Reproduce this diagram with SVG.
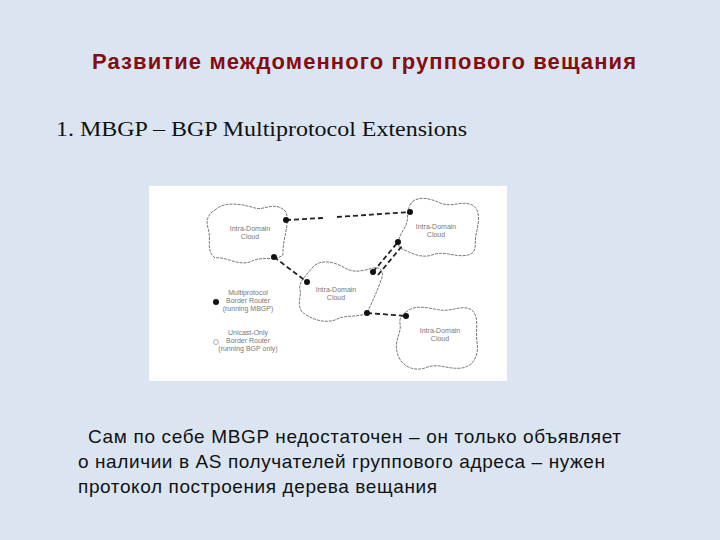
<svg xmlns="http://www.w3.org/2000/svg" width="720" height="540" viewBox="0 0 720 540">
<style>
.title{font-family:"Liberation Sans",Arial,sans-serif;font-weight:bold;font-size:22px;fill:#850d12}
.sub{font-family:"Liberation Serif","Times New Roman",serif;font-size:21px;fill:#111}
.body{font-family:"Liberation Sans",Arial,sans-serif;font-size:19px;fill:#111}
.cloud{fill:#fff;stroke:#555;stroke-width:0.8;stroke-dasharray:3 1}
.lbl{font-family:"Liberation Sans",Arial,sans-serif;font-size:7px;fill:#777;text-anchor:middle}
.link{fill:none;stroke:#222;stroke-width:1.8;stroke-dasharray:5 3}
.rt{fill:#111}
</style>
<rect x="0" y="0" width="720" height="540" fill="#dae5f1"/>
<text class="title" x="92" y="69" textLength="544" lengthAdjust="spacing">Развитие междоменного группового вещания</text>
<text class="sub" x="56" y="136" textLength="411" lengthAdjust="spacingAndGlyphs">1. MBGP – BGP Multiprotocol Extensions</text>
<rect x="149" y="186" width="358" height="195" fill="#fff"/>
<g id="cloud-a">
<path class="cloud" d="M215 210 C225 200,245 205,255 208 C265 211,275 200,286 212 C290 225,282 240,283 255 C275 262,262 255,250 262 C238 266,225 256,215 258 C205 250,212 240,208 228 C205 218,210 213,215 210 Z"/>
<text class="lbl" x="250" y="231">Intra-Domain</text>
<text class="lbl" x="250" y="239">Cloud</text>
</g>
<g id="cloud-b">
<path class="cloud" d="M410 205 C415 195,430 198,440 203 C452 208,462 200,472 205 C482 210,478 225,476 235 C474 245,478 252,468 255 C455 258,445 250,432 255 C420 259,410 252,400 248 C395 240,403 232,406 225 C409 218,406 212,410 205 Z"/>
<text class="lbl" x="436" y="229">Intra-Domain</text>
<text class="lbl" x="436" y="237">Cloud</text>
</g>
<g id="cloud-c">
<path class="cloud" d="M312 268 C320 258,335 262,345 268 C355 274,365 270,373 268 C380 266,385 272,381 280 C377 292,372 302,367 313 C358 318,345 314,335 320 C322 324,310 318,302 312 C296 303,302 296,300 290 C298 282,306 276,312 268 Z"/>
<text class="lbl" x="336" y="292">Intra-Domain</text>
<text class="lbl" x="336" y="300">Cloud</text>
</g>
<g id="cloud-d">
<path class="cloud" d="M406 312 C415 304,428 308,440 310 C452 312,462 304,472 310 C480 318,475 330,477 342 C479 355,474 366,462 368 C448 370,438 362,425 368 C412 372,400 365,397 352 C394 340,402 332,400 324 C399 318,402 315,406 312 Z"/>
<text class="lbl" x="440" y="333">Intra-Domain</text>
<text class="lbl" x="440" y="341">Cloud</text>
</g>
<g id="connectors">
<line class="link" x1="286" y1="220" x2="323" y2="218"/>
<line class="link" x1="337" y1="217" x2="410" y2="212"/>
<line class="link" x1="274" y1="257" x2="307" y2="282"/>
<line class="link" x1="373" y1="272" x2="398" y2="242"/>
<line class="link" x1="378" y1="275" x2="402" y2="246" stroke-width="1.2"/>
<line class="link" x1="367" y1="313" x2="406" y2="316"/>
</g>
<g id="routers">
<circle class="rt" cx="286" cy="220" r="3"/>
<circle class="rt" cx="274" cy="257" r="3"/>
<circle class="rt" cx="307" cy="282" r="3"/>
<circle class="rt" cx="373" cy="272" r="3"/>
<circle class="rt" cx="398" cy="242" r="3"/>
<circle class="rt" cx="410" cy="212" r="3"/>
<circle class="rt" cx="367" cy="313" r="3"/>
<circle class="rt" cx="406" cy="316" r="3"/>
</g>
<g id="legend">
<circle cx="216" cy="302" r="3" fill="#111"/>
<text class="lbl" x="248" y="295">Multiprotocol</text>
<text class="lbl" x="248" y="303">Border Router</text>
<text class="lbl" x="248" y="311">(running MBGP)</text>
<circle cx="216" cy="342" r="2.5" fill="#fff" stroke="#999" stroke-width="0.8"/>
<text class="lbl" x="248" y="335">Unicast-Only</text>
<text class="lbl" x="248" y="343">Border Router</text>
<text class="lbl" x="248" y="351">(running BGP only)</text>
</g>
<text class="body" x="88" y="443" textLength="533" lengthAdjust="spacing">Сам по себе MBGP недостаточен – он только объявляет</text>
<text class="body" x="78" y="468" textLength="527" lengthAdjust="spacing">о наличии в AS получателей группового адреса – нужен</text>
<text class="body" x="78" y="493" textLength="359" lengthAdjust="spacing">протокол построения дерева вещания</text>
</svg>
